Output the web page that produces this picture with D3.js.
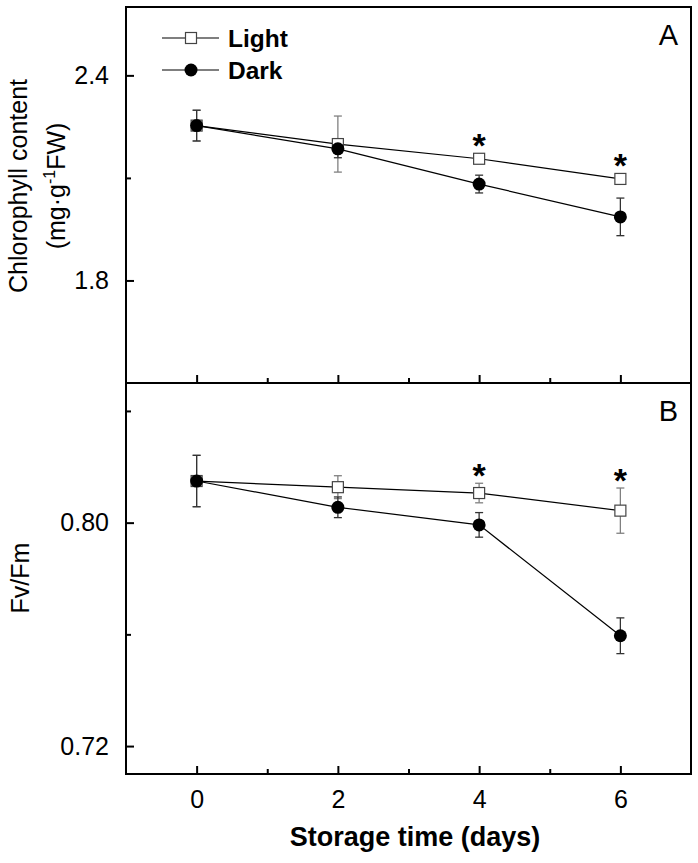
<!DOCTYPE html>
<html>
<head>
<meta charset="utf-8">
<script src="https://cdn.jsdelivr.net/npm/d3@7"></script>
<style>
  html, body { margin: 0; padding: 0; background: #fff; }
  svg { display: block; font-family: "Liberation Sans", Arial, sans-serif; }
</style>
</head>
<body>
<svg id="chart" width="698" height="863"></svg>
<script>
// ---- data ----
const days = [0, 2, 4, 6];
const seriesNames = ["Light", "Dark"];
const chlLight = [2.253, 2.199, 2.156, 2.097];
const chlLightErr = [0.045, 0.082, 0.008, 0.006];
const chlDark = [2.253, 2.185, 2.082, 1.986];
const chlDarkErr = [0.045, 0.026, 0.026, 0.055];
const fvLight = [0.8149, 0.8127, 0.8106, 0.8043];
const fvLightErr = [0.0092, 0.0041, 0.0035, 0.0081];
const fvDark = [0.8149, 0.8055, 0.7992, 0.7595];
const fvDarkErr = [0.0092, 0.0037, 0.0044, 0.0064];
const sigDays = [4, 6];
const xTicks = [0, 2, 4, 6];
const xMinorTicks = [1, 3, 5];
const chlTicks = [1.8, 2.4];
const chlMinorTicks = [2.1];
const fvTicks = [0.72, 0.80];
const fvMinorTicks = [0.76, 0.84];

// ---- layout ----
const svg = d3.select("#chart");
const left = 126, right = 691;
const x = d3.scaleLinear().domain([-1, 7]).range([left, right]);

const panels = [
  { top: 7, bottom: 383, domain: [1.5, 2.6], light: chlLight, lightErr: chlLightErr,
    dark: chlDark, darkErr: chlDarkErr, ticks: chlTicks, minor: chlMinorTicks,
    fmt: d3.format(".1f"), letter: "A", letterY: 45 },
  { top: 383, bottom: 774, domain: [0.71, 0.85], light: fvLight, lightErr: fvLightErr,
    dark: fvDark, darkErr: fvDarkErr, ticks: fvTicks, minor: fvMinorTicks,
    fmt: d3.format(".2f"), letter: "B", letterY: 421 }
];

panels.forEach((p, i) => {
  const y = d3.scaleLinear().domain(p.domain).range([p.bottom, p.top]);
  const g = svg.append("g");

  // frame
  g.append("rect").attr("x", left).attr("y", p.top)
    .attr("width", right - left).attr("height", p.bottom - p.top)
    .attr("fill", "none").attr("stroke", "#000").attr("stroke-width", 2);

  // y axis (ticks inward)
  const yAx = g.append("g").attr("transform", `translate(${left},0)`)
    .call(d3.axisLeft(y).tickValues(p.ticks).tickFormat(p.fmt).tickSize(-8).tickPadding(17));
  yAx.select(".domain").remove();
  yAx.selectAll(".tick line").attr("stroke", "#000").attr("stroke-width", 2);
  yAx.selectAll(".tick text").attr("font-size", 25).attr("fill", "#000")
    .attr("font-family", "Liberation Sans, Arial, sans-serif");
  const yMin = g.append("g").attr("transform", `translate(${left},0)`)
    .call(d3.axisLeft(y).tickValues(p.minor).tickFormat("").tickSize(-5));
  yMin.select(".domain").remove();
  yMin.selectAll(".tick line").attr("stroke", "#000").attr("stroke-width", 2);

  // x ticks at bottom of panel (inward)
  const xAx = g.append("g").attr("transform", `translate(0,${p.bottom})`)
    .call(d3.axisBottom(x).tickValues(xTicks).tickSize(-8).tickPadding(16)
      .tickFormat(i === 1 ? d3.format("d") : ""));
  xAx.select(".domain").remove();
  xAx.selectAll(".tick line").attr("stroke", "#000").attr("stroke-width", 2);
  xAx.selectAll(".tick text").attr("font-size", 25).attr("fill", "#000")
    .attr("font-family", "Liberation Sans, Arial, sans-serif");
  const xMin = g.append("g").attr("transform", `translate(0,${p.bottom})`)
    .call(d3.axisBottom(x).tickValues(xMinorTicks).tickSize(-5).tickFormat(""));
  xMin.select(".domain").remove();
  xMin.selectAll(".tick line").attr("stroke", "#000").attr("stroke-width", 2);

  // panel letter
  g.append("text").attr("x", 678).attr("y", p.letterY).attr("text-anchor", "end")
    .attr("font-size", 29).text(p.letter);

  const line = d3.line().x((d, j) => x(days[j])).y(d => y(d));

  const series = [
    { vals: p.light, errs: p.lightErr, errColor: "#808080", name: "Light" },
    { vals: p.dark, errs: p.darkErr, errColor: "#333", name: "Dark" }
  ];

  // error bars
  series.forEach(s => {
    const eb = g.append("g");
    s.vals.forEach((v, j) => {
      const cx = x(days[j]);
      const y1 = y(v + s.errs[j]), y2 = y(v - s.errs[j]);
      eb.append("line").attr("x1", cx).attr("x2", cx).attr("y1", y1).attr("y2", y2)
        .attr("stroke", s.errColor).attr("stroke-width", 1.3);
      [y1, y2].forEach(yy => eb.append("line").attr("x1", cx - 4).attr("x2", cx + 4)
        .attr("y1", yy).attr("y2", yy).attr("stroke", s.errColor).attr("stroke-width", 1.3));
    });
  });

  // lines
  series.forEach(s => {
    g.append("path").datum(s.vals).attr("d", line)
      .attr("fill", "none").attr("stroke", "#000").attr("stroke-width", 1.2);
  });

  // markers: Light squares, Dark circles
  g.selectAll(null).data(p.light).enter().append("rect")
    .attr("x", (d, j) => x(days[j]) - 5.5).attr("y", d => y(d) - 5.5)
    .attr("width", 11).attr("height", 11)
    .attr("fill", "#fff").attr("stroke", "#444").attr("stroke-width", 1.2);
  g.selectAll(null).data(p.dark).enter().append("circle")
    .attr("cx", (d, j) => x(days[j])).attr("cy", d => y(d)).attr("r", 6.5)
    .attr("fill", "#000");

  // significance asterisks
  sigDays.forEach(dday => {
    const j = days.indexOf(dday);
    const topY = Math.min(y(p.light[j] + p.lightErr[j]), y(p.light[j]) - 5.5);
    g.append("text").attr("x", x(dday)).attr("y", topY + 4)
      .attr("text-anchor", "middle").attr("font-size", 34).attr("font-weight", "bold")
      .text("*");
  });
});

// legend
const legend = svg.append("g");
const legendRows = [{ name: seriesNames[0], y: 38 }, { name: seriesNames[1], y: 70 }];
legendRows.forEach((r, k) => {
  legend.append("line").attr("x1", 162).attr("x2", 219).attr("y1", r.y).attr("y2", r.y)
    .attr("stroke", "#000").attr("stroke-width", 1.2);
  if (k === 0) {
    legend.append("rect").attr("x", 191 - 5.5).attr("y", r.y - 5.5).attr("width", 11).attr("height", 11)
      .attr("fill", "#fff").attr("stroke", "#444").attr("stroke-width", 1.2);
  } else {
    legend.append("circle").attr("cx", 191).attr("cy", r.y).attr("r", 6.5).attr("fill", "#000");
  }
  legend.append("text").attr("x", 228).attr("y", r.y + 9).attr("font-size", 24.5)
    .attr("font-weight", "bold").text(r.name);
});

// axis titles
svg.append("text").attr("transform", "translate(27,186) rotate(-90)")
  .attr("text-anchor", "middle").attr("font-size", 25).text("Chlorophyll content");
const yA2 = svg.append("text").attr("transform", "translate(65,186) rotate(-90)")
  .attr("text-anchor", "middle").attr("font-size", 25);
yA2.append("tspan").text("(mg·g");
yA2.append("tspan").attr("dy", -10).attr("font-size", 16).text("-1");
yA2.append("tspan").attr("dy", 10).text("FW)");

svg.append("text").attr("transform", "translate(29,578) rotate(-90)")
  .attr("text-anchor", "middle").attr("font-size", 25).text("Fv/Fm");

svg.append("text").attr("x", 415).attr("y", 846).attr("text-anchor", "middle")
  .attr("font-size", 27).attr("font-weight", "bold").text("Storage time (days)");
</script>
</body>
</html>
